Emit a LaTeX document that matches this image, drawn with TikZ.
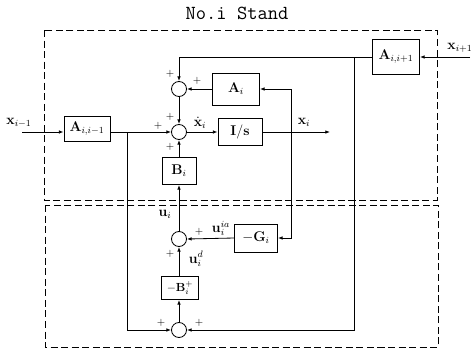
\documentclass[tikz,border=0pt]{standalone}
\usepackage{amsmath}
\usepackage{amssymb}
\usepackage{tikz}
\usetikzlibrary{arrows.meta,calc,positioning}

\begin{document}
\begin{tikzpicture}[x=0.03cm, y=-0.03cm, line width=0.7pt,
	blk/.style={draw, rectangle, inner sep=0pt, font=\large},
	sumc/.style={draw, circle, minimum size=0.45cm, inner sep=0pt},
	sig/.style={-{Latex[length=4pt,width=3pt]}},
	pm/.style={font=\small, inner sep=0pt},
	lbl/.style={font=\large, inner sep=0pt},
	frame/.style={dash pattern=on 6pt off 3pt, line width=0.7pt}]
	\useasboundingbox (0,0) rectangle (476,350);
	
	% title and the two dashed frames
	\node[font=\fontsize{17}{20}\selectfont\ttfamily] (title) at (237,13) {No.i Stand};
	\draw[frame] (44,30) rectangle (437,200);
	\draw[frame] (45,205) rectangle (438,347);
	
	% summing points
	\node[sumc] (s1) at (179,89) {};
	\node[sumc] (s2) at (179,132) {};
	\node[sumc] (s3) at (179,239) {};
	\node[sumc] (s4) at (179,330) {};
	
	% blocks
	\node[blk, minimum width=1.41cm, minimum height=0.96cm] (ai) at (236,89) {$\mathbf{A}_{i}$};
	\node[blk, minimum width=1.32cm, minimum height=0.81cm] (intg) at (240,132) {$\mathbf{I/s}$};
	\node[blk, minimum width=1.38cm, minimum height=0.75cm] (aim) at (87,129) {$\mathbf{A}_{i,i-1}$};
	\node[blk, minimum width=1.41cm, minimum height=1.05cm] (aip) at (396,57) {$\mathbf{A}_{i,i+1}$};
	\node[blk, minimum width=1.02cm, minimum height=0.81cm] (bi) at (179,171) {$\mathbf{B}_{i}$};
	\node[blk, minimum width=1.29cm, minimum height=0.84cm] (gi) at (256,238) {$-\mathbf{G}_{i}$};
	\node[blk, font=\normalsize, minimum width=1.11cm, minimum height=0.69cm] (bp) at (180,288) {$-\mathbf{B}_{i}^{+}$};
	
	% free ends and branch points
	\coordinate (xin) at (22,132);
	\coordinate (xout) at (470,57);
	\coordinate (xend) at (330,132);
	\coordinate (j1) at (127,132);
	\coordinate (j2) at (354,57);
	\coordinate (j3) at (291,132);
	
	% neighbour stands
	\draw[sig] (xin) -- (aim.west |- xin);
	\draw[sig] (aim.east |- s2) -- (s2.west);
	\draw[sig] (j1) -- (j1 |- s4) -- (s4.west);
	\draw[sig] (xout) -- (aip.east);
	\draw[sig] (aip.west) -- (s1 |- aip) -- (s1.north);
	\draw[sig] (j2) -- (j2 |- s4) -- (s4.east);
	
	% state loop
	\draw[sig] (s1.south) -- (s2.north);
	\draw[sig] (ai.west) -- (s1.east);
	\draw[sig] (s2.east) -- (intg.west);
	\draw[sig] (intg.east) -- (xend);
	\draw[sig] (j3 |- ai) -- (ai.east);
	\draw[sig] (j3 |- ai) -- (j3 |- gi) -- (gi.east);
	
	% control path
	\draw[sig] (gi.west) -- (s3.east);
	\draw[sig] (s3.north) -- (bi.south);
	\draw[sig] (bi.north) -- (s2.south);
	\draw[sig] (bp.north -| s3) -- (s3.south);
	\draw[sig] (s4.north) -- (bp.south -| s4);
	
	% signs
	\node[pm] (p1) at (170,74) {$+$};
	\node[pm] (p2) at (197,81) {$+$};
	\node[pm] (p3) at (158,126) {$+$};
	\node[pm] (p4) at (170,117) {$+$};
	\node[pm] (p5) at (170,147) {$+$};
	\node[pm] (p6) at (199,232) {$+$};
	\node[pm] (p7) at (170,254) {$+$};
	\node[pm] (p8) at (161,323) {$+$};
	\node[pm] (p9) at (199,323) {$+$};
	
	% signal names
	\node[lbl] (lxin) at (19,123) {$\mathbf{x}_{i-1}$};
	\node[lbl] (lxout) at (460,48) {$\mathbf{x}_{i+1}$};
	\node[lbl, anchor=south] (lxd) at (200,129) {$\dot{\mathbf{x}}_{i}$};
	\node[lbl] (lx) at (304,122) {$\mathbf{x}_{i}$};
	\node[lbl] (lu) at (165,214) {$\mathbf{u}_{i}$};
	\node[lbl, anchor=south] (lua) at (221,236) {$\mathbf{u}_{i}^{ia}$};
	\node[lbl] (lud) at (196,259) {$\mathbf{u}_{i}^{d}$};
\end{tikzpicture}
\end{document}
